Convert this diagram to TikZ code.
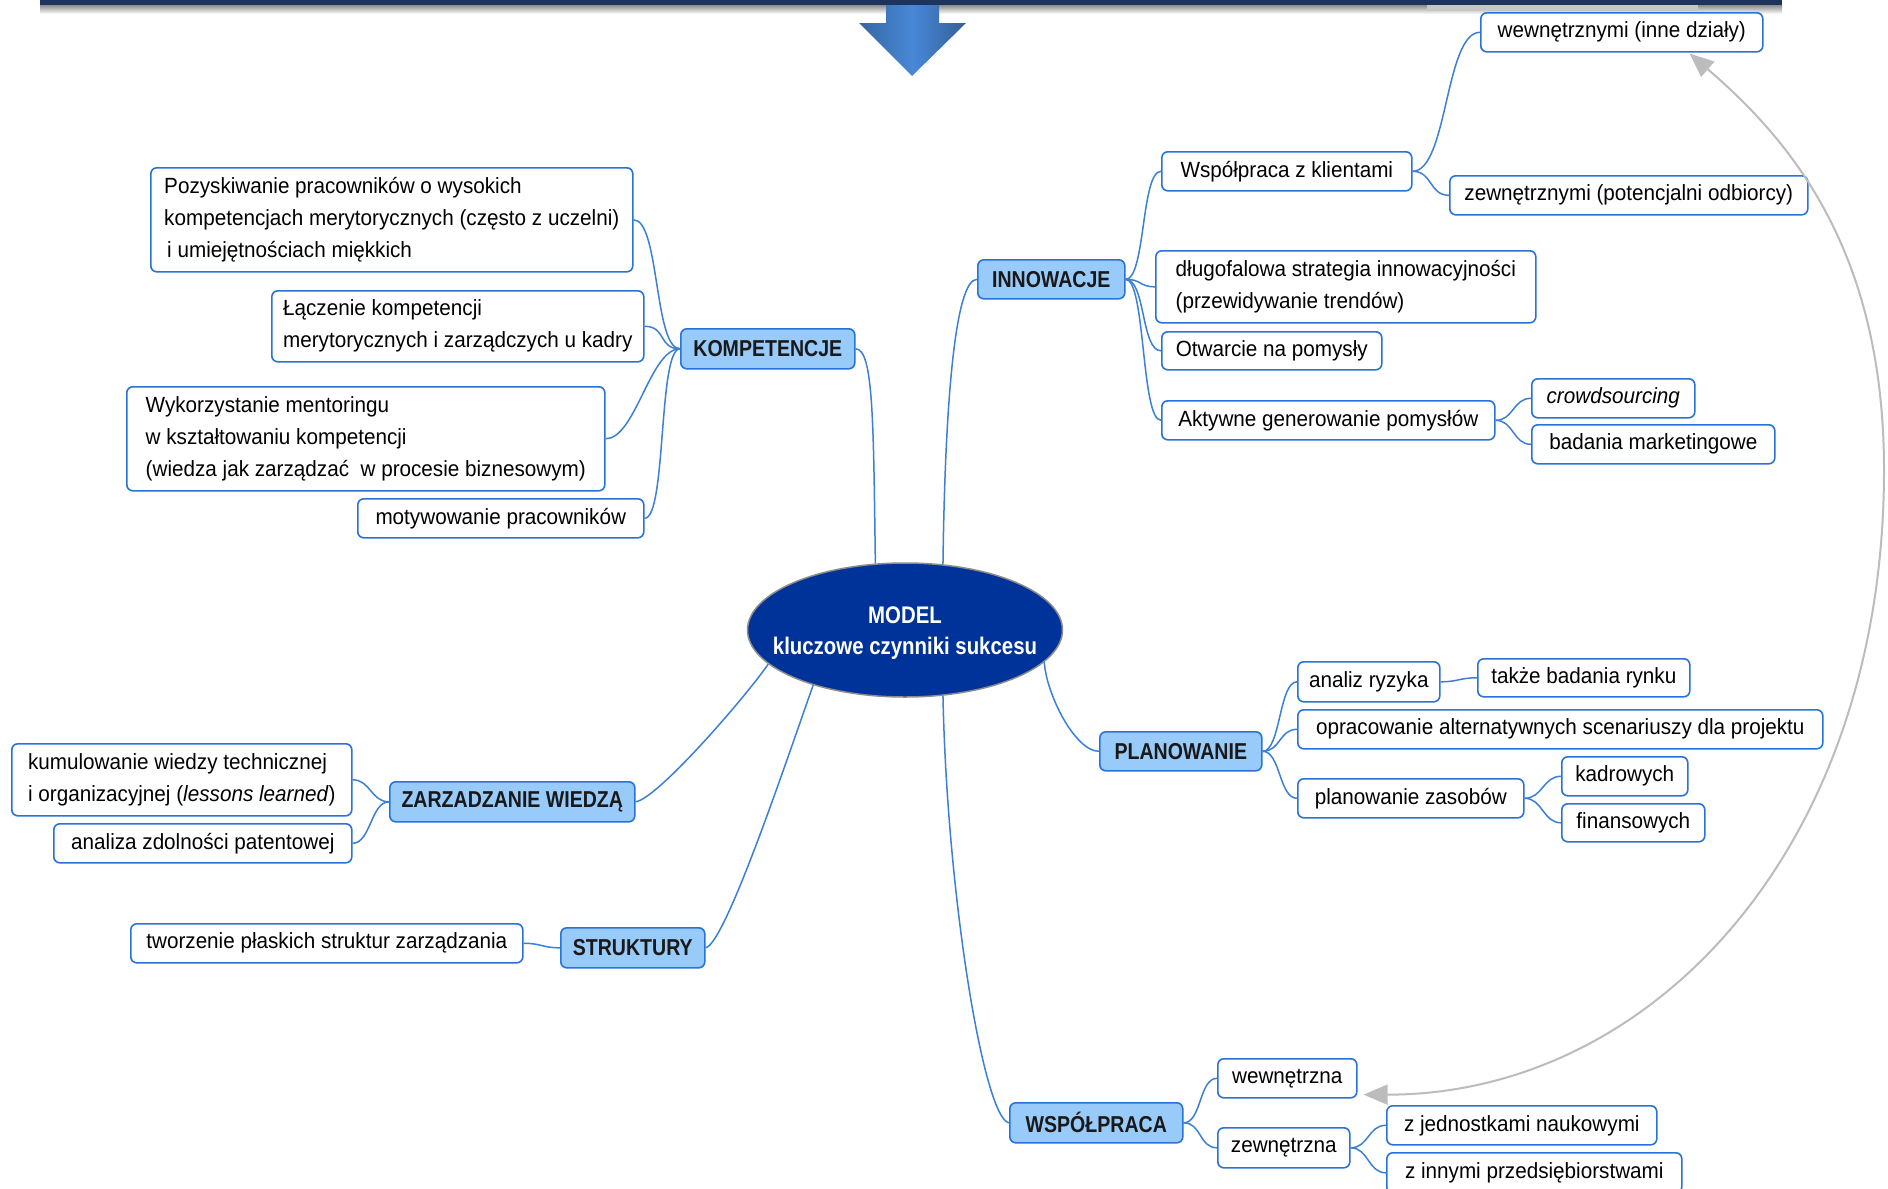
\documentclass[tikz,border=0pt]{standalone}
\usepackage{fontspec}
\setmainfont[FakeStretch=0.94]{Liberation Sans}
\newfontfamily\brfont[FakeStretch=0.85]{Liberation Sans}
\usetikzlibrary{arrows.meta,shapes.geometric,calc}
\definecolor{lineblue}{RGB}{60,128,214}
\definecolor{boxborder}{RGB}{40,115,215}
\definecolor{branchfill}{RGB}{152,202,250}
\definecolor{ellfill}{RGB}{0,51,153}
\definecolor{navybar}{RGB}{30,52,92}
\definecolor{relgray}{RGB}{188,188,188}
\definecolor{arrowblue}{RGB}{72,136,216}
\tikzset{
  leaf/.style={draw=boxborder, line width=1.6pt, rounded corners=6pt, fill=white,
    inner xsep=4pt, inner ysep=0pt, anchor=north west, align=left,
    font=\fontsize{22}{32}\selectfont, text=black},
  branch/.style={draw=boxborder, line width=1.6pt, rounded corners=6pt, fill=branchfill,
    inner sep=0pt, anchor=north west, align=center,
    font=\brfont\bfseries\fontsize{23}{28}\selectfont, text=black!90},
  conn/.style={draw=lineblue, line width=1.5pt},
  relarrow/.style={draw=relgray, line width=2pt,
    {Triangle[length=24pt,width=20pt,fill=relgray]}-{Triangle[length=24pt,width=20pt,fill=relgray]}}
}
\newcommand\bx[7]{\node[#1, minimum width={(#5)-(#3)}, minimum height={(#6)-(#4)}] (#2) at (#3,#4) {#7};}
\newcommand\sconn[3]{\draw[conn] (#1) .. controls +(#3,0) and +(-#3,0) .. (#2);}
\begin{document}
\begin{tikzpicture}[x=1pt,y=-1pt]
\useasboundingbox (0,0) rectangle (1888,1189);
\fill[white] (0,0) rectangle (1888,1189);

% top decoration
\shade[top color=black!45, bottom color=white] (40,5) rectangle (1782,14);
\fill[black!22] (1427,5) rectangle (1698,11);
\shade[left color=arrowblue!75!black, right color=arrowblue!70!black, middle color=arrowblue]
  (886,0) -- (939,0) -- (939,23) -- (966,23) -- (912,76) -- (859,23) -- (886,23) -- cycle;
\fill[navybar] (40,-2) rectangle (1782,5);

% central ellipse
\node[ellipse, fill=ellfill, draw=black!45, line width=1.5pt, minimum width=315, minimum height=134,
  inner sep=0pt] (model) at (905,630) {};
\node[inner sep=0pt, align=center, text=white, font=\brfont\bfseries\fontsize{24}{31}\selectfont]
  (modeltxt) at ([yshift=-3pt]model.center) {MODEL\\kluczowe czynniki sukcesu};

% KOMPETENCJE
\bx{branch}{komp}{680}{328}{854}{368}{KOMPETENCJE}
\bx{leaf}{poz}{150}{167}{632}{271}{Pozyskiwanie pracowników o wysokich\\kompetencjach merytorycznych (często z uczelni)\\\hspace{3pt}i umiejętnościach miękkich}
\bx{leaf}{lacz}{271}{290}{643}{361}{Łączenie kompetencji\\merytorycznych i zarządczych u kadry}
\bx{leaf}{wyk}{126}{386}{604}{490}{Wykorzystanie mentoringu\\w kształtowaniu kompetencji\\(wiedza jak zarządzać\ \ w procesie biznesowym)}
\bx{leaf}{mot}{357}{498}{643}{537}{motywowanie pracowników}

% INNOWACJE
\bx{branch}{innow}{977}{259}{1124}{298}{INNOWACJE}
\bx{leaf}{wspk}{1161}{151}{1411}{190}{Współpraca z klientami}
\bx{leaf}{wewI}{1480}{12}{1762}{51}{wewnętrznymi (inne działy)}
\bx{leaf}{zewI}{1449}{175}{1807}{214}{zewnętrznymi (potencjalni odbiorcy)}
\bx{leaf}{dlug}{1155}{250}{1535}{322}{długofalowa strategia innowacyjności\\(przewidywanie trendów)}
\bx{leaf}{otw}{1161}{331}{1381}{369}{Otwarcie na pomysły}
\bx{leaf}{akt}{1161}{400}{1494}{439}{Aktywne generowanie pomysłów}
\bx{leaf}{crowd}{1531}{378}{1694}{417}{\itshape crowdsourcing}
\bx{leaf}{bad}{1531}{424}{1774}{463}{badania marketingowe}

% PLANOWANIE
\bx{branch}{plan}{1099}{731}{1261}{770}{PLANOWANIE}
\bx{leaf}{analiz}{1297}{661}{1439}{701}{analiz ryzyka}
\bx{leaf}{takze}{1477}{658}{1689}{696}{także badania rynku}
\bx{leaf}{oprac}{1297}{709}{1822}{748}{opracowanie alternatywnych scenariuszy dla projektu}
\bx{leaf}{zas}{1297}{778}{1523}{817}{planowanie zasobów}
\bx{leaf}{kadr}{1561}{756}{1687}{795}{kadrowych}
\bx{leaf}{fin}{1561}{803}{1704}{841}{finansowych}

% ZARZADZANIE WIEDZA
\bx{branch}{zw}{389}{781}{634}{821}{ZARZADZANIE WIEDZĄ}
\bx{leaf}{kum}{11}{743}{351}{815}{kumulowanie wiedzy technicznej\\i organizacyjnej (\textit{lessons learned})}
\bx{leaf}{pat}{53}{823}{351}{862}{analiza zdolności patentowej}

% STRUKTURY
\bx{branch}{struk}{560}{927}{704}{967}{STRUKTURY}
\bx{leaf}{tw}{130}{923}{522}{962}{tworzenie płaskich struktur zarządzania}

% WSPOLPRACA
\bx{branch}{wsp}{1009}{1102}{1182}{1142}{WSPÓŁPRACA}
\bx{leaf}{wew2}{1217}{1058}{1356}{1097}{wewnętrzna}
\bx{leaf}{zew2}{1217}{1127}{1349}{1167}{zewnętrzna}
\bx{leaf}{jedn}{1386}{1105}{1656}{1144}{z jednostkami naukowymi}
\bx{leaf}{inn}{1386}{1152}{1681}{1192}{z innymi przedsiębiorstwami}

% connectors: center to branches
\draw[conn] (komp.east) .. controls +(18,0) and +(-2,-140) .. (model.114);
\draw[conn] (innow.west) .. controls +(-22,0) and +(2,-160) .. (model.60);
\draw[conn] (zw.east) .. controls +(22,-3) and +(-22,32) .. (model.194);
\draw[conn] (struk.east) .. controls +(20,-4) and +(-25,70) .. (model.211);
\draw[conn] (plan.west) .. controls +(-24,0) and +(2,32) .. (model.347);
\draw[conn] (wsp.west) .. controls +(-25,-4) and +(4,200) .. (model.300);

% connectors: branches to leaves
\sconn{komp.west}{poz.east}{-26}
\sconn{komp.west}{lacz.east}{-22}
\sconn{komp.west}{wyk.east}{-30}
\sconn{komp.west}{mot.east}{-22}
\sconn{innow.east}{wspk.west}{20}
\sconn{innow.east}{dlug.west}{16}
\sconn{innow.east}{otw.west}{20}
\sconn{innow.east}{akt.west}{20}
\sconn{wspk.east}{wewI.west}{35}
\sconn{wspk.east}{zewI.west}{20}
\sconn{akt.east}{crowd.west}{18}
\sconn{akt.east}{bad.west}{18}
\sconn{plan.east}{analiz.west}{18}
\sconn{plan.east}{oprac.west}{18}
\sconn{plan.east}{zas.west}{18}
\sconn{analiz.east}{takze.west}{18}
\sconn{zas.east}{kadr.west}{18}
\sconn{zas.east}{fin.west}{18}
\sconn{zw.west}{kum.east}{-18}
\sconn{zw.west}{pat.east}{-18}
\sconn{struk.west}{tw.east}{-18}
\sconn{wsp.east}{wew2.west}{18}
\sconn{wsp.east}{zew2.west}{18}
\sconn{zew2.east}{jedn.west}{18}
\sconn{zew2.east}{inn.west}{18}

% relationship arrow
\coordinate (relA) at ([xshift=6pt,yshift=4pt]wew2.south east);
\coordinate (relB) at ([xshift=-74pt,yshift=-1pt]wewI.south east);
\coordinate (relM) at (1884,470);
\draw[relarrow] (relA) .. controls (1650,1095) and (1884,850) .. (relM)
  .. controls (1884,250) and (1790,140) .. (relB);
\end{tikzpicture}
\end{document}
